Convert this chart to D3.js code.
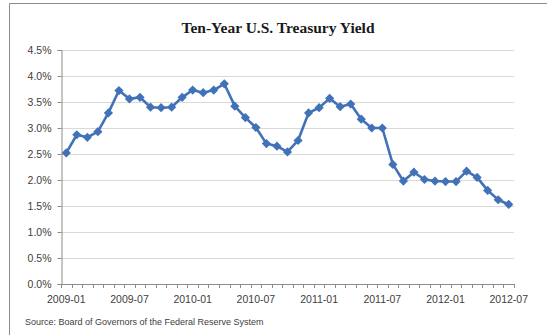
<!DOCTYPE html>
<html><head><meta charset="utf-8">
<script src="https://cdn.jsdelivr.net/npm/d3@7"></script>
<style>body{margin:0;background:#fff;overflow:hidden}</style></head>
<body><svg id="c" width="547" height="335"></svg>
<script>
const months = ["2009-01","2009-02","2009-03","2009-04","2009-05","2009-06","2009-07","2009-08","2009-09","2009-10","2009-11","2009-12",
"2010-01","2010-02","2010-03","2010-04","2010-05","2010-06","2010-07","2010-08","2010-09","2010-10","2010-11","2010-12",
"2011-01","2011-02","2011-03","2011-04","2011-05","2011-06","2011-07","2011-08","2011-09","2011-10","2011-11","2011-12",
"2012-01","2012-02","2012-03","2012-04","2012-05","2012-06","2012-07"];
const yields = [2.52,2.87,2.82,2.93,3.29,3.72,3.56,3.59,3.40,3.39,3.40,3.59,
3.73,3.68,3.73,3.85,3.42,3.20,3.01,2.70,2.65,2.54,2.76,3.29,
3.39,3.57,3.41,3.46,3.17,3.00,3.00,2.30,1.98,2.15,2.01,1.98,
1.97,1.97,2.17,2.05,1.80,1.62,1.53];
const yTicks = [0,0.5,1,1.5,2,2.5,3,3.5,4,4.5];
const xLabels = ["2009-01","2009-07","2010-01","2010-07","2011-01","2011-07","2012-01","2012-07"];
const title = "Ten-Year U.S. Treasury Yield";
const source = "Source:  Board of Governors of the Federal Reserve System";

const svg = d3.select("#c");
const L = 61, R = 514, T = 50, B = 284;

// chart border
svg.append("path").attr("d", `M9.5,335 V3.5 H547`).attr("fill","none").attr("stroke","#8c8c8c").attr("stroke-width",1);

const x = d3.scaleBand().domain(months).range([L, R]).paddingInner(0).paddingOuter(0);
const y = d3.scaleLinear().domain([0, 4.5]).range([B, T]);

// gridlines
svg.append("g").selectAll("line").data(yTicks.filter(d => d > 0)).join("line")
  .attr("x1", L).attr("x2", R)
  .attr("y1", d => Math.round(y(d)) + 0.5).attr("y2", d => Math.round(y(d)) + 0.5)
  .attr("stroke", "#d9d9d9").attr("stroke-width", 1.2);

// y axis
const yAxis = d3.axisLeft(y).tickValues(yTicks).tickSize(4).tickPadding(6)
  .tickFormat(d => d3.format(".1f")(d) + "%");
const gy = svg.append("g").attr("transform", `translate(${L + 0.5},0)`).call(yAxis);
gy.select(".domain").attr("stroke", "#8c8c8c");
gy.selectAll(".tick line").attr("stroke", "#8c8c8c");
gy.selectAll(".tick text").attr("font-family", "Liberation Sans, Arial, sans-serif").attr("font-size", 10.5).attr("fill", "#404040");

// x axis line
svg.append("line").attr("x1", L).attr("x2", R).attr("y1", B + 0.5).attr("y2", B + 0.5).attr("stroke", "#8c8c8c");
// minor ticks at category boundaries
const bounds = months.map(m => x(m)).concat([x(months[months.length - 1]) + x.bandwidth()]);
svg.append("g").selectAll("line").data(bounds).join("line")
  .attr("x1", d => Math.round(d) + 0.5).attr("x2", d => Math.round(d) + 0.5)
  .attr("y1", B).attr("y2", B + 4).attr("stroke", "#8c8c8c");
// x labels
svg.append("g").selectAll("text").data(xLabels).join("text")
  .attr("x", d => x(d) + x.bandwidth() / 2).attr("y", B + 19)
  .attr("text-anchor", "middle")
  .attr("font-family", "Liberation Sans, Arial, sans-serif").attr("font-size", 10.5).attr("fill", "#404040")
  .text(d => d);

// line
const pts = months.map((m, i) => [x(m) + x.bandwidth() / 2, y(yields[i])]);
svg.append("path").datum(pts).attr("d", d3.line())
  .attr("fill", "none").attr("stroke", "#4172b8").attr("stroke-width", 2.6).attr("stroke-linejoin", "round");
const r = 4.6;
svg.append("g").selectAll("path").data(pts).join("path")
  .attr("d", d => `M${d[0]},${d[1] - r}L${d[0] + r},${d[1]}L${d[0]},${d[1] + r}L${d[0] - r},${d[1]}Z`)
  .attr("fill", "#4172b8");

// title
svg.append("text").attr("x", 278).attr("y", 33).attr("text-anchor", "middle")
  .attr("font-family", "Liberation Serif, Times New Roman, serif").attr("font-weight", "bold")
  .attr("font-size", 15.5).attr("fill", "#1a1a1a").text(title);

// source
svg.append("text").attr("x", 25).attr("y", 325)
  .attr("font-family", "Liberation Sans, Arial, sans-serif").attr("font-size", 9).attr("fill", "#404040")
  .text(source);
</script></body></html>
